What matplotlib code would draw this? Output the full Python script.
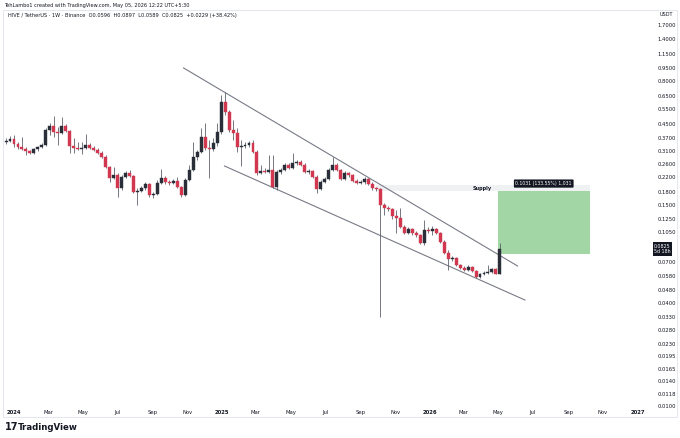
import numpy as np
import pandas as pd
import matplotlib
matplotlib.use("Agg")
import matplotlib.pyplot as plt
import matplotlib.dates as mdates
from matplotlib.patches import Rectangle
from matplotlib.ticker import FixedLocator, NullLocator
from datetime import datetime, timedelta

# weekly HIVE/USDT candles
weeks = pd.date_range("2023-12-18", periods=125, freq="7D")

closes = [0.356, 0.366, 0.342, 0.328, 0.320, 0.311, 0.303, 0.320, 0.328, 0.337,
          0.413, 0.436, 0.402, 0.396, 0.436, 0.407, 0.333, 0.324, 0.320, 0.324,
          0.337, 0.324, 0.315, 0.303, 0.287, 0.251, 0.216, 0.225, 0.189, 0.219,
          0.231, 0.222, 0.179, 0.181, 0.189, 0.199, 0.172, 0.174, 0.202, 0.216,
          0.205, 0.202, 0.207, 0.191, 0.172, 0.210, 0.241, 0.287, 0.307, 0.376,
          0.324, 0.320, 0.347, 0.402, 0.602, 0.526, 0.413, 0.396, 0.328, 0.333,
          0.337, 0.347, 0.307, 0.231, 0.237, 0.234, 0.241, 0.191, 0.234, 0.241,
          0.258, 0.247, 0.265, 0.268, 0.258, 0.234, 0.237, 0.219, 0.186, 0.205,
          0.213, 0.241, 0.258, 0.241, 0.213, 0.231, 0.225, 0.207, 0.202, 0.205,
          0.213, 0.199, 0.189, 0.186, 0.150, 0.144, 0.142, 0.129, 0.126, 0.112,
          0.103, 0.109, 0.103, 0.100, 0.090, 0.107, 0.106, 0.109, 0.103, 0.091,
          0.079, 0.0725, 0.0735, 0.067, 0.064, 0.0625, 0.065, 0.0617, 0.057, 0.059,
          0.060, 0.061, 0.063, 0.0596, 0.0825]

highs = [0.371, 0.381, 0.386, 0.351, 0.376, 0.328, 0.315, 0.324, 0.333, 0.347,
         0.424, 0.454, 0.499, 0.430, 0.492, 0.448, 0.413, 0.371, 0.351, 0.351,
         0.391, 0.347, 0.333, 0.324, 0.311, 0.295, 0.254, 0.251, 0.231, 0.225,
         0.237, 0.241, 0.225, 0.189, 0.194, 0.205, 0.202, 0.179, 0.210, 0.244,
         0.222, 0.210, 0.213, 0.219, 0.194, 0.216, 0.258, 0.351, 0.315, 0.424,
         0.454, 0.361, 0.371, 0.454, 0.660, 0.689, 0.540, 0.472, 0.424, 0.361,
         0.351, 0.356, 0.361, 0.315, 0.258, 0.247, 0.295, 0.295, 0.241, 0.247,
         0.265, 0.265, 0.303, 0.276, 0.276, 0.265, 0.244, 0.241, 0.225, 0.210,
         0.219, 0.247, 0.287, 0.265, 0.244, 0.237, 0.234, 0.228, 0.213, 0.210,
         0.219, 0.216, 0.205, 0.191, 0.189, 0.154, 0.148, 0.144, 0.140, 0.144,
         0.115, 0.112, 0.110, 0.106, 0.101, 0.123, 0.112, 0.113, 0.110, 0.104,
         0.094, 0.082, 0.0755, 0.0745, 0.068, 0.066, 0.067, 0.066, 0.0625, 0.060,
         0.0617, 0.067, 0.064, 0.064, 0.0897]

lows = [0.342, 0.351, 0.328, 0.320, 0.315, 0.295, 0.299, 0.299, 0.311, 0.324,
        0.333, 0.386, 0.376, 0.337, 0.391, 0.402, 0.303, 0.303, 0.315, 0.299,
        0.320, 0.320, 0.311, 0.299, 0.283, 0.247, 0.205, 0.213, 0.167, 0.184,
        0.216, 0.219, 0.177, 0.150, 0.179, 0.184, 0.167, 0.165, 0.172, 0.199,
        0.199, 0.197, 0.199, 0.189, 0.167, 0.170, 0.207, 0.237, 0.276, 0.303,
        0.315, 0.216, 0.311, 0.333, 0.391, 0.505, 0.402, 0.361, 0.307, 0.254,
        0.324, 0.328, 0.303, 0.225, 0.228, 0.231, 0.231, 0.189, 0.184, 0.228,
        0.237, 0.244, 0.244, 0.258, 0.254, 0.231, 0.228, 0.216, 0.177, 0.184,
        0.202, 0.210, 0.237, 0.237, 0.210, 0.210, 0.219, 0.205, 0.199, 0.199,
        0.199, 0.197, 0.184, 0.181, 0.0332, 0.131, 0.138, 0.124, 0.103, 0.110,
        0.101, 0.101, 0.100, 0.097, 0.089, 0.088, 0.103, 0.100, 0.101, 0.090,
        0.078, 0.0625, 0.0705, 0.066, 0.063, 0.0617, 0.0617, 0.061, 0.0563, 0.0563,
        0.0584, 0.059, 0.060, 0.059, 0.0589]

first_open = 0.351
opens = [first_open] + closes[:-1]

# drawings
upper_line = [("2024-10-25", 0.9525), ("2026-06-04", 0.066)]
lower_line = [("2025-01-05", 0.254), ("2026-06-17", 0.0417)]
target_box = ("2026-04-30", "2026-10-09", 0.0772, 0.1803)
supply_zone = ("2025-09-28", "2026-10-09", 0.1803, 0.197)

price_ticks = [1.7, 1.4, 1.15, 0.95, 0.80, 0.65, 0.55, 0.45, 0.37, 0.31, 0.26, 0.22,
               0.18, 0.15, 0.125, 0.105, 0.070, 0.058, 0.048, 0.040, 0.033, 0.028,
               0.023, 0.0195, 0.0165, 0.014, 0.0118, 0.010]

up_col = "#2a2e39"
dn_col = "#d1374f"
wick_col = "#5d606b"

fig = plt.figure(figsize=(6.8, 4.38), dpi=100)
fig.patch.set_facecolor("white")
ax = fig.add_axes([3 / 680, 1 - 408 / 438, 645 / 680, 396 / 438])
ax.set_facecolor("white")

base = mdates.date2num(datetime(2024, 1, 1))
ax.set_xlim(base + (3 - 14) / 0.569, base + (648 - 14) / 0.569)
ax.set_yscale("log")
ax.set_ylim(0.00973, 2.025)

x = mdates.date2num(weeks.to_pydatetime())
for xi, o, h, l, c in zip(x, opens, highs, lows, closes):
    col = up_col if c >= o else dn_col
    ax.vlines(xi, l, h, color=wick_col, linewidth=0.6, zorder=3)
    lo, hi = min(o, c), max(o, c)
    if hi / lo < 1.008:
        hi = lo * 1.008
    ax.bar(xi, hi - lo, bottom=lo, width=5.2, color=col, edgecolor=col,
           linewidth=0.3, zorder=4)

# trendlines
for pts in (upper_line, lower_line):
    xs = [mdates.date2num(datetime.fromisoformat(d)) for d, _ in pts]
    ys = [p for _, p in pts]
    ax.plot(xs, ys, color="#787b86", linewidth=0.8, zorder=2)

# supply zone
sx0 = mdates.date2num(datetime.fromisoformat(supply_zone[0]))
sx1 = mdates.date2num(datetime.fromisoformat(supply_zone[1]))
ax.add_patch(Rectangle((sx0, supply_zone[2]), sx1 - sx0, supply_zone[3] - supply_zone[2],
                       facecolor="#f0f1f3", edgecolor="none", zorder=1))
ax.text(mdates.date2num(datetime(2026, 4, 2)), 0.1885, "Supply", fontsize=3.6,
        ha="center", va="center", color="#131722", fontweight="bold", zorder=5)

# long position target box
bx0 = mdates.date2num(datetime.fromisoformat(target_box[0]))
bx1 = mdates.date2num(datetime.fromisoformat(target_box[1]))
ax.add_patch(Rectangle((bx0, target_box[2]), bx1 - bx0, target_box[3] - target_box[2],
                       facecolor="#a3d6a5", edgecolor="none", zorder=1.5))
ax.text((bx0 + bx1) / 2, 0.2005, "0.1031 (133.55%) 1,031", fontsize=3.3,
        ha="center", va="center", color="white", zorder=6,
        bbox=dict(boxstyle="round,pad=0.35,rounding_size=0.2", facecolor="#131722",
                  edgecolor="none"))

# axes styling
for s in ax.spines.values():
    s.set_visible(False)
ax.yaxis.tick_right()
ax.yaxis.set_major_locator(FixedLocator(price_ticks))
ax.yaxis.set_minor_locator(NullLocator())
ax.set_yticklabels([f"{t:.4f}" for t in price_ticks])
ax.tick_params(axis="y", length=0, pad=7, labelsize=3.8, labelcolor="#131722")

month_ticks = []
month_labels = []
for yr in (2024, 2025, 2026):
    for m in (1, 3, 5, 7, 9, 11):
        month_ticks.append(mdates.date2num(datetime(yr, m, 1)))
        month_labels.append(str(yr) if m == 1 else datetime(yr, m, 1).strftime("%b"))
month_ticks.append(mdates.date2num(datetime(2027, 1, 1)))
month_labels.append("2027")
ax.set_xticks(month_ticks)
ax.set_xticklabels(month_labels)
ax.tick_params(axis="x", length=0, pad=1.5, labelsize=3.8, labelcolor="#131722")
for lbl in ax.get_xticklabels():
    if lbl.get_text().isdigit():
        lbl.set_fontweight("bold")

# last price label
fig.text(662.5 / 680, 1 - 249 / 438, "0.0825\n5d 18h", fontsize=3.4, color="white",
         ha="center", va="center", linespacing=1.1,
         bbox=dict(boxstyle="square,pad=0.3", facecolor="#131722", edgecolor="none"))
fig.text(660 / 680, 1 - 14 / 438, "USDT", fontsize=3.6, color="#131722",
         ha="left", va="center")

# pane frame
fig.patches.append(Rectangle((3 / 680, 1 - 417 / 438), 674 / 680, 407 / 438,
                             transform=fig.transFigure, facecolor="none",
                             edgecolor="#e0e3eb", linewidth=0.6))

# header
fig.text(4 / 680, 1 - 5 / 438, "TehLambo1 created with TradingView.com, May 05, 2026 12:22 UTC+5:30",
         fontsize=3.6, color="#131722", ha="left", va="center")
fig.text(8 / 680, 1 - 15 / 438,
         "HIVE / TetherUS \u00b7 1W \u00b7 Binance  O0.0596  H0.0897  L0.0589  C0.0825  +0.0229 (+38.42%)",
         fontsize=3.6, color="#131722", ha="left", va="center")

# footer logo
fig.text(5 / 680, 1 - 427 / 438, "17", fontsize=7, fontweight="bold", color="#131722",
         ha="left", va="center")
fig.text(18 / 680, 1 - 427 / 438, "TradingView", fontsize=6.2, fontweight="bold",
         color="#131722", ha="left", va="center")

fig.savefig("out.png", dpi=100, facecolor="white")
